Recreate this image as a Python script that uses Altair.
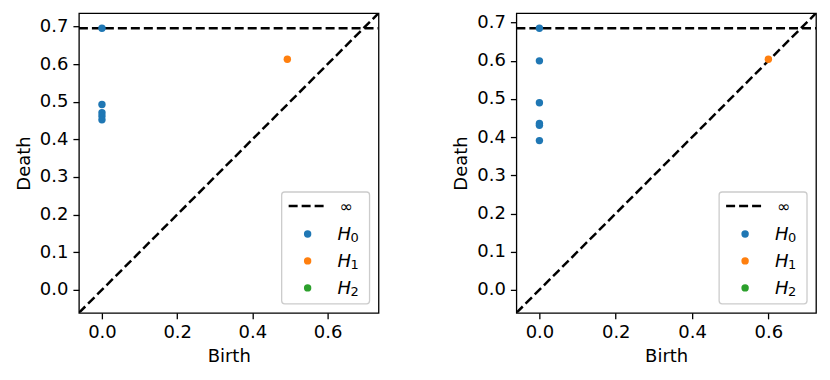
import altair as alt
import pandas as pd

INF = float("inf")

dims = ["H0", "H1", "H2"]
dim_colors = ["#1f77b4", "#ff7f0e", "#2ca02c"]

# Left diagram
left_h0_birth = [0.0, 0.0, 0.0, 0.0, 0.0]
left_h0_death = [INF, 0.493, 0.471, 0.462, 0.452]
left_h1_birth = [0.493]
left_h1_death = [0.613]

# Right diagram
right_h0_birth = [0.0, 0.0, 0.0, 0.0, 0.0, 0.0]
right_h0_death = [INF, 0.600, 0.490, 0.436, 0.431, 0.391]
right_h1_birth = [0.600]
right_h1_death = [0.604]

x_ticks = [0.0, 0.2, 0.4, 0.6]
y_ticks = [0.0, 0.1, 0.2, 0.3, 0.4, 0.5, 0.6, 0.7]

W = 300
H = 300
FONT = "DejaVu Sans"
FS = 18
LW = 2.5
DASH = [9, 4]
DOT = 55


def legend_layers():
    one = pd.DataFrame({"k": [0]})
    layers = []
    layers.append(
        alt.Chart(one).mark_rect(fill="white", fillOpacity=0.8, stroke="#cccccc",
                                 strokeWidth=1.3, cornerRadius=3)
        .encode(x=alt.value(W - 97), x2=alt.value(W - 9),
                y=alt.value(H - 121), y2=alt.value(H - 9))
    )
    layers.append(
        alt.Chart(one).mark_rule(color="black", strokeWidth=LW, strokeDash=DASH)
        .encode(x=alt.value(W - 90), x2=alt.value(W - 54), y=alt.value(H - 107))
    )
    layers.append(
        alt.Chart(one).mark_text(align="left", baseline="middle", font=FONT,
                                 fontSize=16, color="black")
        .encode(x=alt.value(W - 39), y=alt.value(H - 106), text=alt.value("∞"))
    )
    for i, (d, c) in enumerate(zip(dims, dim_colors)):
        yy = H - 79 + 27 * i
        layers.append(
            alt.Chart(one).mark_circle(size=DOT, opacity=1, color=c)
            .encode(x=alt.value(W - 71), y=alt.value(yy))
        )
        layers.append(
            alt.Chart(one).mark_text(align="left", baseline="alphabetic", font=FONT,
                                     fontSize=FS, fontStyle="italic", color="black")
            .encode(x=alt.value(W - 41), y=alt.value(yy + 6), text=alt.value(d[0]))
        )
        layers.append(
            alt.Chart(one).mark_text(align="left", baseline="alphabetic", font=FONT,
                                     fontSize=13, color="black")
            .encode(x=alt.value(W - 28), y=alt.value(yy + 8), text=alt.value(d[1]))
        )
    return layers


def panel(h0b, h0d, h1b, h1d):
    finite = [v for v in h0b + h0d + h1b + h1d if v != INF]
    lo, hi = min(finite), max(finite)
    buf = (hi - lo) / 5
    ax_lo = lo - buf / 2
    ax_hi = hi + buf
    b_inf = ax_lo + 0.95 * (ax_hi - ax_lo)

    rows = []
    for b, d in zip(h0b, h0d):
        rows.append({"birth": b, "death": b_inf if d == INF else d, "dim": "H0"})
    for b, d in zip(h1b, h1d):
        rows.append({"birth": b, "death": d, "dim": "H1"})
    pts = pd.DataFrame(rows)

    sx = alt.Scale(domain=[ax_lo, ax_hi], nice=False, zero=False)
    sy = alt.Scale(domain=[ax_lo, ax_hi], nice=False, zero=False)
    xa = alt.Axis(values=x_ticks, format=".1f", title="Birth")
    ya = alt.Axis(values=y_ticks, format=".1f", title="Death")

    diag = alt.Chart(pd.DataFrame({"a": [ax_lo, ax_hi], "b": [ax_lo, ax_hi]})).mark_line(
        color="black", strokeWidth=LW, strokeDash=DASH, clip=True
    ).encode(
        x=alt.X("a:Q", scale=sx, axis=xa),
        y=alt.Y("b:Q", scale=sy, axis=ya),
    )
    infl = alt.Chart(pd.DataFrame({"a": [ax_lo], "a2": [ax_hi], "b": [b_inf]})).mark_rule(
        color="black", strokeWidth=LW, strokeDash=DASH, clip=True
    ).encode(
        x=alt.X("a:Q", scale=sx, axis=xa),
        x2="a2:Q",
        y=alt.Y("b:Q", scale=sy, axis=ya),
    )
    dots = alt.Chart(pts).mark_circle(size=DOT, opacity=1).encode(
        x=alt.X("birth:Q", scale=sx, axis=xa),
        y=alt.Y("death:Q", scale=sy, axis=ya),
        color=alt.Color("dim:N", scale=alt.Scale(domain=dims, range=dim_colors), legend=None),
    )
    return alt.layer(diag, infl, dots, *legend_layers()).properties(width=W, height=H)


left = panel(left_h0_birth, left_h0_death, left_h1_birth, left_h1_death)
right = panel(right_h0_birth, right_h0_death, right_h1_birth, right_h1_death)

chart = alt.hconcat(left, right, spacing=72).properties(
    padding={"left": 6, "top": 4, "right": 5, "bottom": 5}
).configure_view(
    stroke="black", strokeWidth=1.3
).configure_axis(
    domain=False, grid=False, ticks=True, tickSize=6, tickColor="black", tickWidth=1.3,
    labelFont=FONT, labelFontSize=FS, labelColor="black", labelPadding=5,
    titleFont=FONT, titleFontSize=FS, titleFontWeight="normal", titleColor="black",
    titlePadding=6,
)

chart.save("out.html", embed_options={"renderer": "svg", "actions": False})
